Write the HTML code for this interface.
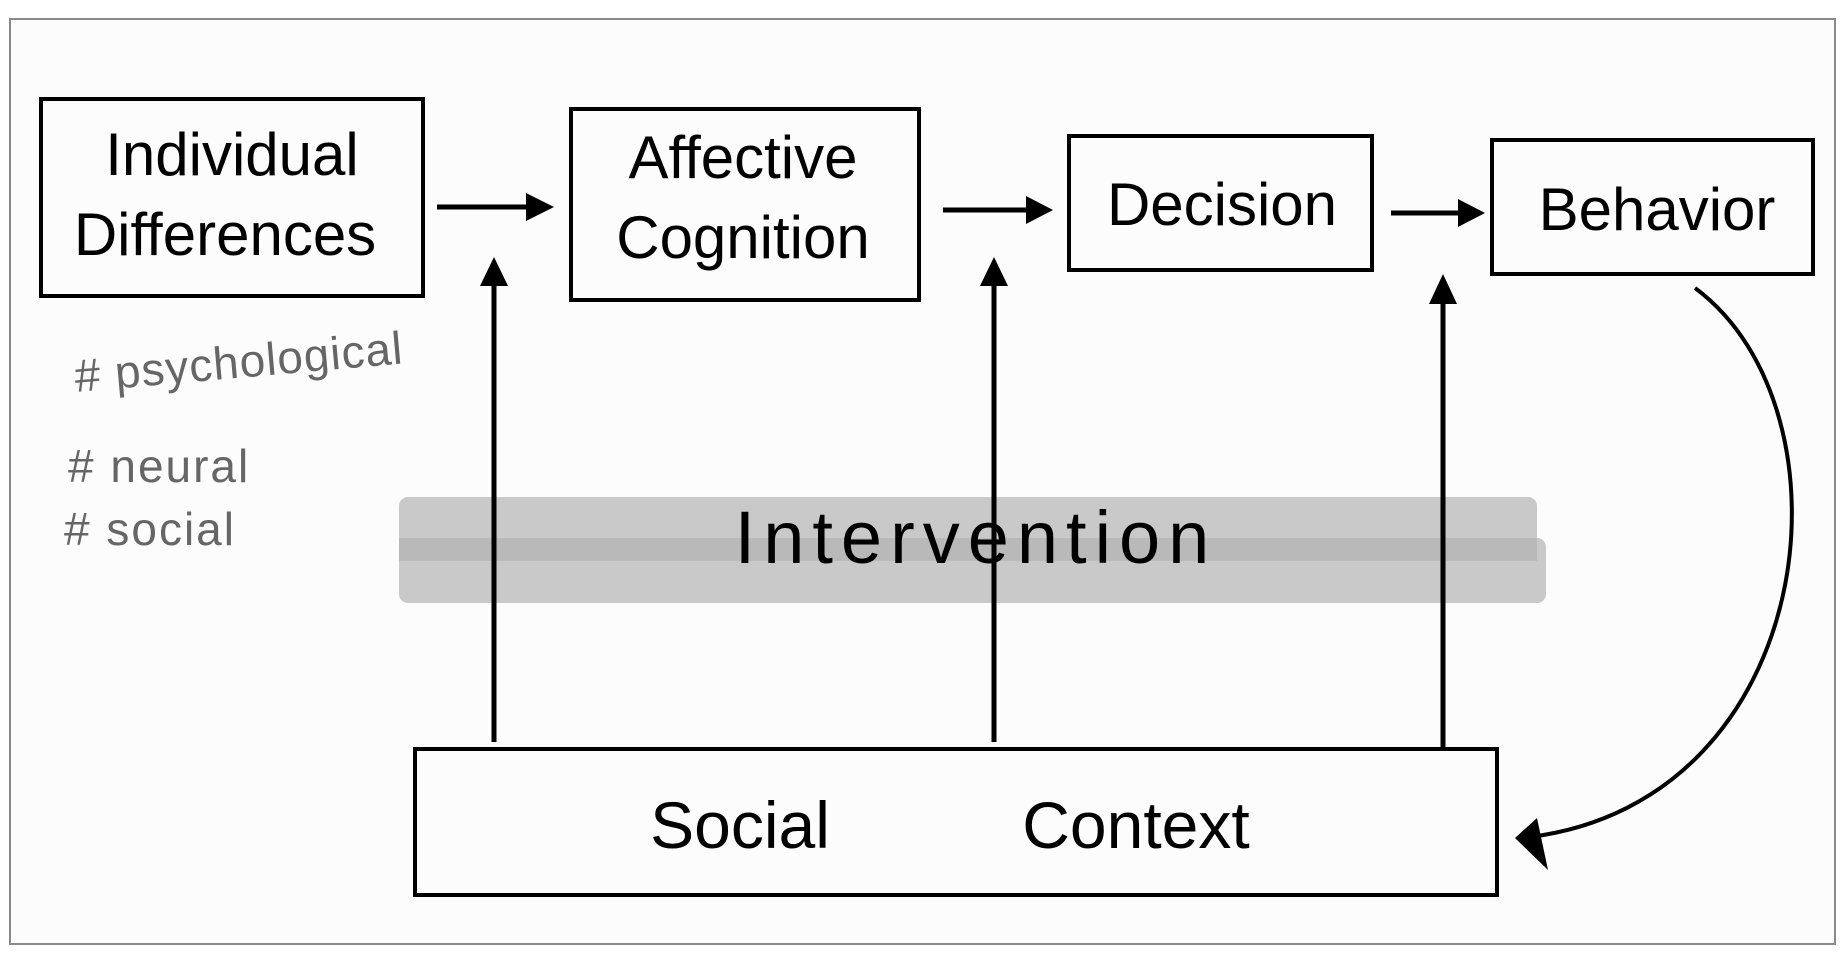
<!DOCTYPE html>
<html><head><meta charset="utf-8"><style>
html,body{margin:0;padding:0;background:#fff;}
svg{display:block;}
text{font-family:"Liberation Sans",sans-serif;}
</style></head><body>
<svg width="1842" height="961" viewBox="0 0 1842 961" xmlns="http://www.w3.org/2000/svg">
<rect x="0" y="0" width="1842" height="961" fill="#fff"/>
<rect x="10" y="19" width="1825" height="925" fill="#fcfcfc" stroke="#8a8a8a" stroke-width="2"/>
<rect x="399" y="497" width="1138" height="64" rx="9" fill="#c9c9c9"/>
<rect x="399" y="538" width="1147" height="65" rx="9" fill="#c9c9c9"/>
<rect x="399" y="538" width="1138" height="23" fill="#b9b9b9"/>
<g fill="none" stroke="#000" stroke-width="4">
<rect x="41" y="99" width="382" height="197"/>
<rect x="571" y="109" width="348" height="191"/>
<rect x="1069" y="136" width="303" height="134"/>
<rect x="1492" y="140" width="321" height="134"/>
<rect x="415" y="749" width="1082" height="146"/>
</g>
<g stroke="#000" stroke-width="5" fill="#000">
<line x1="437" y1="207" x2="530" y2="207"/><polygon points="554,207 526,193 526,221" stroke="none"/>
<line x1="943" y1="210" x2="1030" y2="210"/><polygon points="1053,210 1026,196 1026,224" stroke="none"/>
<line x1="1391" y1="213" x2="1462" y2="213"/><polygon points="1485,213 1458,199 1458,227" stroke="none"/>
<line x1="494" y1="742" x2="494" y2="280"/><polygon points="494,257 480,286 508,286" stroke="none"/>
<line x1="994" y1="742" x2="994" y2="280"/><polygon points="994,257 980,286 1008,286" stroke="none"/>
<line x1="1443" y1="747" x2="1443" y2="298"/><polygon points="1443,274 1429,304 1457,304" stroke="none"/>
</g>
<path d="M1695,288 C1860,410 1820,800 1530,837" fill="none" stroke="#000" stroke-width="4"/>
<polygon points="1515,838 1537,818 1548,870" fill="#000"/>
<g fill="#000" font-size="60">
<text x="232" y="175" text-anchor="middle">Individual</text>
<text x="225" y="255" text-anchor="middle">Differences</text>
<text x="743" y="178" text-anchor="middle">Affective</text>
<text x="743" y="258" text-anchor="middle">Cognition</text>
<text x="1222" y="225" text-anchor="middle">Decision</text>
<text x="1657" y="230" text-anchor="middle">Behavior</text>
<text x="976" y="563" text-anchor="middle" font-size="74" letter-spacing="8">Intervention</text>
<text x="740" y="848" text-anchor="middle" font-size="66">Social</text>
<text x="1136" y="848" text-anchor="middle" font-size="66">Context</text>
</g>
<g fill="#666" font-size="46">
<text x="76" y="392" transform="rotate(-5 76 392)" letter-spacing="1">#  psychological</text>
<text x="68" y="482" letter-spacing="2">#  neural</text>
<text x="64" y="545" letter-spacing="2">#  social</text>
</g>
</svg>
</body></html>
